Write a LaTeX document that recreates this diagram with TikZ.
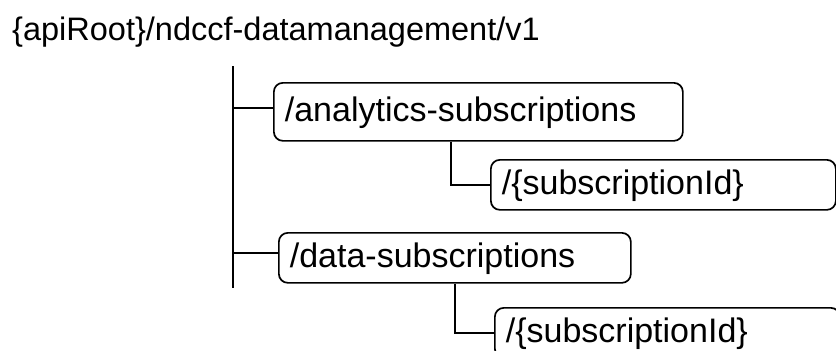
\documentclass[tikz,border=0pt]{standalone}
\usepackage{fontspec}
\setmainfont{Liberation Sans}
\begin{document}
\begin{tikzpicture}[x=1pt,y=-1pt,
  txt/.style={font=\fontsize{34}{39}\selectfont},
  res/.style={txt, draw, line width=1.7pt, rounded corners=9pt,
    anchor=north west, inner xsep=11pt, inner ysep=0pt, align=left,
    text height=23pt, text depth=3pt},
  link/.style={line width=1.7pt}]
\useasboundingbox (0,0) rectangle (836,351);
\clip (0,0) rectangle (836,351);

% API root
\node[font=\fontsize{32.5}{38}\selectfont, anchor=base west, inner sep=0pt]
  (root) at (12,40) {\{apiRoot\}/ndccf-datamanagement/v1};

% resources
\node[res, text width=387pt, minimum height=58pt] (anasub) at (273,82)
  {/analytics-subscriptions};
\node[res, text width=323pt, minimum height=50pt] (anaid) at (490,159)
  {/\{subscriptionId\}};
\node[res, text width=330pt, minimum height=50pt] (datasub) at (278,232)
  {/data-subscriptions};
\node[res, text width=323pt, minimum height=50pt] (dataid) at (494,307)
  {/\{subscriptionId\}};

% tree trunk
\coordinate (ttop) at (233,66);
\coordinate (tbot) at (233,288);
\draw[link] (ttop) -- (tbot);
\coordinate (b1) at (233,108);
\coordinate (b2) at (233,253);
\draw[link] (b1) -- (b1 -| anasub.west);
\draw[link] (b2) -- (b2 -| datasub.west);

% sub-resource links
\coordinate (s1) at (451,0);
\coordinate (s2) at (455,0);
\draw[link] (s1 |- anasub.south) |- (anaid.west);
\draw[link] (s2 |- datasub.south) |- (dataid.west);
\end{tikzpicture}
\end{document}
